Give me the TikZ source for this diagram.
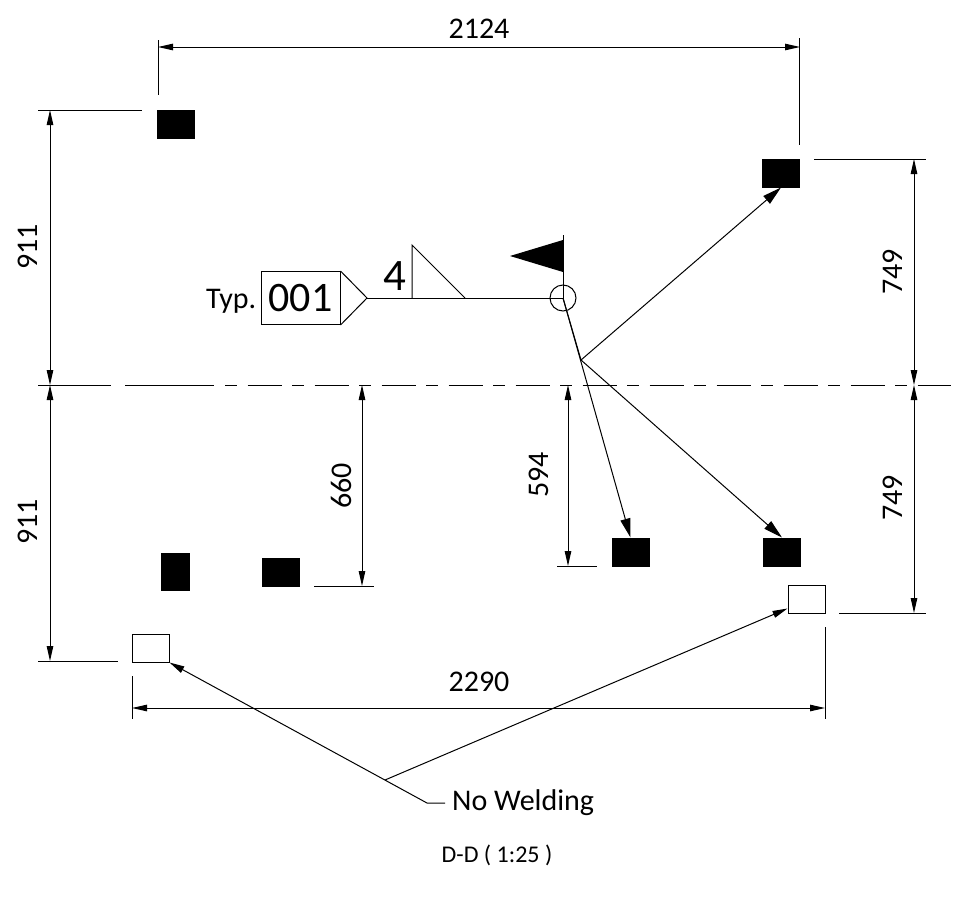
\documentclass[tikz,border=0pt]{standalone}
\usepackage{fontspec}
\setmainfont{Carlito}
\usetikzlibrary{positioning,arrows.meta}
\tikzset{
  solidbox/.style={
    draw, fill=black, rectangle, minimum width=#1, minimum height=28pt, inner sep=0pt, line width=1pt
  },
  openbox/.style={
    draw, rectangle, minimum width=37pt, minimum height=28pt, inner sep=0pt, line width=1pt
  },
  dimline/.style={
    {Triangle[length=15pt,width=6.5pt]}-{Triangle[length=15pt,width=6.5pt]}, line width=1pt
  },
  leader/.style={
    -{Triangle[length=19pt,width=10pt]}, line width=1pt
  },
  noteline/.style={
    -{Triangle[length=15pt,width=7pt]}, line width=1pt
  },
  extline/.style={line width=1pt},
  dimlabel/.style={font=\fontsize{30}{30}\selectfont, inner sep=0pt}
}

\begin{document}
\begin{tikzpicture}[x=1pt, y=-1pt]
  \useasboundingbox (0, 0) rectangle (954, 905);

  % marks
  \node[solidbox=37pt] (marka) at (175.5, 124) {};
  \node[solidbox=37pt] (markb) at (781, 173) {};
  \node[solidbox=28pt, minimum height=37pt] (markc) at (175, 572) {};
  \node[solidbox=37pt] (markd) at (281, 572) {};
  \node[solidbox=37pt] (marke) at (630.5, 552) {};
  \node[solidbox=37pt] (markf) at (782, 552) {};
  \node[openbox] (openr) at (806.5, 599) {};
  \node[openbox] (openl) at (150.5, 648) {};

  % centre line
  \coordinate (cla) at (38, 385);
  \coordinate (clb) at (111, 385);
  \coordinate (clc) at (125, 385);
  \coordinate (cld) at (214, 385);
  \coordinate (cle) at (225, 385);
  \coordinate (clf) at (951, 385);
  \draw[extline] (cla) -- (clb);
  \draw[extline] (clc) -- (cld);
  \draw[extline, dash pattern=on 12pt off 10.5pt on 34pt off 10.5pt] (cle) -- (clf);

  % dimensions
  \coordinate (ta) at (158, 47);
  \coordinate (tb) at (800, 47);
  \coordinate (tc) at (158, 40);
  \coordinate (td) at (158, 95);
  \coordinate (te) at (799, 38);
  \coordinate (tf) at (799, 145);
  \draw[dimline] (ta) -- (tb);
  \draw[extline] (tc) -- (td);
  \draw[extline] (te) -- (tf);
  \node[dimlabel] (ltop) at (479, 29) {2124};

  \coordinate (la) at (50, 110);
  \coordinate (lb) at (50, 385);
  \coordinate (lc) at (50, 661);
  \coordinate (ld) at (38, 110);
  \coordinate (le) at (142, 110);
  \coordinate (lf) at (38, 661);
  \coordinate (lg) at (118, 661);
  \draw[dimline] (la) -- (lb);
  \draw[dimline] (lb) -- (lc);
  \draw[extline] (ld) -- (le);
  \draw[extline] (lf) -- (lg);
  \node[dimlabel, rotate=90] (lleftu) at (28, 247) {911};
  \node[dimlabel, rotate=90] (lleftd) at (28, 522) {911};

  \coordinate (ra) at (914, 159);
  \coordinate (rb) at (914, 385);
  \coordinate (rc) at (914, 613);
  \coordinate (rd) at (814, 159);
  \coordinate (re) at (926, 159);
  \coordinate (rf) at (839, 613);
  \coordinate (rg) at (926, 613);
  \draw[dimline] (ra) -- (rb);
  \draw[dimline] (rb) -- (rc);
  \draw[extline] (rd) -- (re);
  \draw[extline] (rf) -- (rg);
  \node[dimlabel, rotate=90] (lrightu) at (893, 272) {749};
  \node[dimlabel, rotate=90] (lrightd) at (893, 498) {749};

  \coordinate (ma) at (362, 385);
  \coordinate (mb) at (362, 586);
  \coordinate (mc) at (314, 586);
  \coordinate (md) at (374, 586);
  \draw[dimline] (ma) -- (mb);
  \draw[extline] (mc) -- (md);
  \node[dimlabel, rotate=90] (lmida) at (341, 486) {660};

  \coordinate (na) at (568, 385);
  \coordinate (nb) at (568, 566);
  \coordinate (nc) at (557, 566);
  \coordinate (nd) at (597, 566);
  \draw[dimline] (na) -- (nb);
  \draw[extline] (nc) -- (nd);
  \node[dimlabel, rotate=90] (lmidb) at (539, 475) {594};

  \coordinate (ba) at (132, 708);
  \coordinate (bb) at (825, 708);
  \coordinate (bc) at (132, 676);
  \coordinate (bd) at (132, 719);
  \coordinate (be) at (825, 627);
  \coordinate (bf) at (825, 719);
  \draw[dimline] (ba) -- (bb);
  \draw[extline] (bc) -- (bd);
  \draw[extline] (be) -- (bf);
  \node[dimlabel] (lbot) at (479, 682) {2290};

  % weld symbol
  \node[draw, rectangle, minimum width=79pt, minimum height=53pt, inner sep=0pt, line width=1pt,
    font=\fontsize{42}{42}\selectfont] (tag) at (300.5, 298) {001};
  \node[dimlabel, left=4pt of tag, yshift=-3pt] (typ) {Typ.};
  \coordinate (tip) at (367, 298);
  \coordinate (toe) at (412, 298);
  \coordinate (top) at (412, 245);
  \coordinate (heel) at (465, 298);
  \coordinate (joint) at (563, 298);
  \coordinate (pole) at (563, 235);
  \coordinate (flaga) at (563, 240);
  \coordinate (flagb) at (510, 256);
  \coordinate (flagc) at (563, 272);
  \coordinate (fork) at (581, 360);
  \draw[extline] (tag.north east) -- (tip) -- (tag.south east);
  \draw[extline] (tip) -- (joint) -- (pole);
  \draw[extline] (toe) -- (top) -- (heel);
  \fill (flaga) -- (flagb) -- (flagc) -- cycle;
  \node[draw, circle, minimum size=26pt, inner sep=0pt, line width=1pt] (ring) at (joint) {};
  \node[font=\fontsize{45}{45}\selectfont, inner sep=0pt] (size) at (395, 276) {4};
  \draw[leader] (joint) -- (marke.north);
  \draw[extline] (joint) -- (fork);
  \draw[leader] (fork) -- (markb.south);
  \draw[leader] (fork) -- (markf.north);

  % no welding note
  \node[dimlabel, anchor=west] (note) at (452, 803) {No Welding};
  \coordinate (notec) at (445, 803);
  \coordinate (noteb) at (427, 803);
  \coordinate (notea) at (385, 780);
  \draw[noteline] (notec) -- (noteb) -- (openl.south east);
  \draw[noteline] (notea) -- ([yshift=5pt]openr.south west);

  \node[font=\fontsize{24}{24}\selectfont, inner sep=0pt] (title) at (497, 855) {D-D ( 1:25 )};
\end{tikzpicture}
\end{document}
